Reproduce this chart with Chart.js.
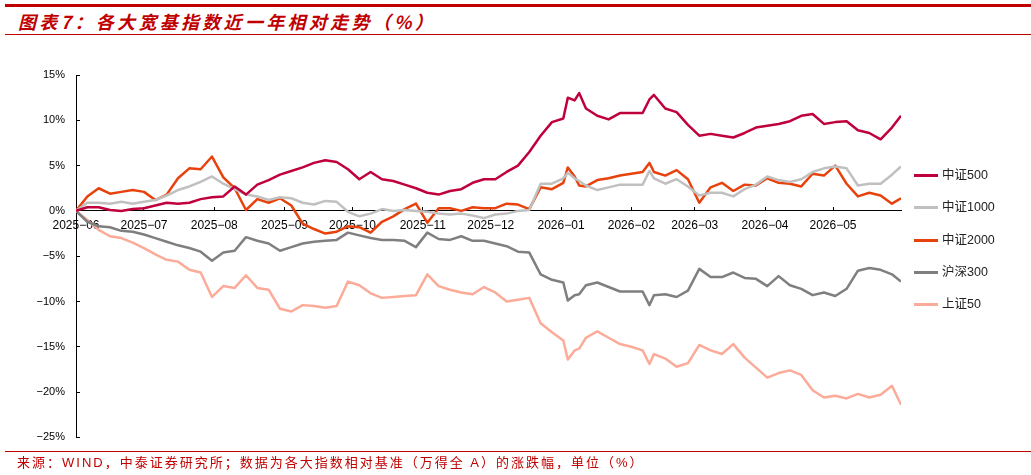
<!DOCTYPE html>
<html>
<head>
<meta charset="utf-8">
<script src="https://cdn.jsdelivr.net/npm/chart.js@4.4.1/dist/chart.umd.min.js"></script>
<style>
    body {
        margin: 0;
        width: 1031px;
        height: 475px;
        overflow: hidden;
        position: relative;
        background: #fff;
        font-family: "Liberation Sans", Arial, "Noto Sans CJK SC", sans-serif;
    }
    .top-line { position: absolute; left: 5px; right: 0; top: 4px; height: 3px; background: #c00000; }
    .title {
        position: absolute; left: 18px; top: 8px;
        font: italic bold 18px "Noto Sans CJK SC", sans-serif;
        letter-spacing: 3.3px; color: #c00000; white-space: nowrap;
    }
    .sub-line { position: absolute; left: 5px; right: 0; top: 34px; height: 1px; background: #c00000; }
    #chartBox { position: absolute; left: 0; top: 40px; width: 1031px; height: 419px; }
    .foot-line { position: absolute; left: 5px; right: 0; top: 451px; height: 1px; background: #c00000; }
    .foot {
        position: absolute; left: 17px; top: 452px;
        font-size: 13px; letter-spacing: 2px; color: #c00000; white-space: nowrap;
        font-family: "Liberation Sans", "Noto Sans CJK SC", sans-serif;
    }
    #legend { position: absolute; left: 914px; top: 166px; }
    .item { height: 32.3px; display: flex; align-items: flex-start; font-size: 12.5px; color: #222; }
    .item span.line { display: inline-block; width: 24px; height: 3px; margin: 8px 4px 0 0; }
    .item span.txt { line-height: 18px; font-family: "Liberation Sans", "Noto Sans CJK SC", sans-serif; }
</style>
</head>
<body>
<div class="top-line"></div>
<div class="title">图表7：各大宽基指数近一年相对走势（%）</div>
<div class="sub-line"></div>
<div id="chartBox"><canvas id="trendChart"></canvas></div>
<div id="legend"></div>
<div class="foot-line"></div>
<div class="foot">来源：WIND，中泰证券研究所；数据为各大指数相对基准（万得全 A）的涨跌幅，单位（%）</div>

<script>
const dates = ['2025-06-01','2025-06-06','2025-06-11','2025-06-16','2025-06-21','2025-06-26','2025-07-01','2025-07-06','2025-07-11','2025-07-16',
    '2025-07-21','2025-07-26','2025-07-31','2025-08-05','2025-08-10','2025-08-15','2025-08-20','2025-08-25','2025-08-30','2025-09-04',
    '2025-09-09','2025-09-14','2025-09-19','2025-09-24','2025-09-29','2025-10-04','2025-10-09','2025-10-14','2025-10-19','2025-10-24',
    '2025-10-29','2025-11-03','2025-11-08','2025-11-13','2025-11-18','2025-11-23','2025-11-28','2025-12-03','2025-12-08','2025-12-13',
    '2025-12-18','2025-12-23','2025-12-28','2026-01-02','2026-01-04','2026-01-07','2026-01-09','2026-01-12','2026-01-17','2026-01-22',
    '2026-01-27','2026-02-01','2026-02-06','2026-02-09','2026-02-11','2026-02-16','2026-02-21','2026-02-26','2026-03-03','2026-03-08',
    '2026-03-13','2026-03-18','2026-03-23','2026-03-28','2026-04-02','2026-04-07','2026-04-12','2026-04-17','2026-04-22','2026-04-27',
    '2026-05-02','2026-05-07','2026-05-12','2026-05-17','2026-05-22','2026-05-27','2026-05-31'];

const tickLabels = ['2025-06','2025-07','2025-08','2025-09','2025-10','2025-11','2025-12','2026-01','2026-02','2026-03','2026-04','2026-05'];

// relative return vs 万得全A, %
const csi500 = [0,0.4,0.4,0.1,0.0,0.2,0.3,0.6,0.9,0.8,0.9,1.3,1.5,1.6,2.7,1.8,2.9,3.4,4.0,4.4,
    4.8,5.3,5.6,5.4,4.6,3.5,4.3,3.5,3.3,2.9,2.5,2.0,1.8,2.2,2.4,3.1,3.5,3.5,4.3,5.0,
    6.5,8.3,9.8,10.2,12.5,12.2,13.0,11.3,10.5,10.1,10.8,10.8,10.8,12.3,12.8,11.3,10.9,9.5,8.3,8.5,
    8.3,8.1,8.6,9.2,9.4,9.6,9.9,10.5,10.7,9.6,9.8,9.9,8.9,8.6,7.9,9.2,10.5];
const csi1000 = [0,0.9,0.9,0.8,1.0,0.8,1.0,1.2,1.7,2.3,2.7,3.2,3.8,3.0,2.4,1.8,1.6,1.2,1.5,1.4,
    0.9,0.7,1.1,1.0,-0.1,-0.6,-0.3,0.2,0.0,0.1,0.0,-0.1,-0.3,-0.4,-0.3,-0.5,-0.8,-0.4,-0.3,0.0,
    0.1,3.0,3.0,3.6,4.2,3.6,3.3,2.8,2.3,2.6,2.9,2.9,2.9,4.4,3.6,3.0,3.5,2.7,1.7,2.0,
    2.0,1.6,2.4,2.9,3.8,3.4,3.2,3.5,4.3,4.7,4.9,4.7,2.8,3.0,3.0,4.0,4.9];
const csi2000 = [0,1.6,2.5,1.9,2.1,2.3,2.1,1.2,1.8,3.6,4.7,4.6,6.0,3.7,2.5,0.1,1.3,0.9,1.4,0.6,
    -1.4,-2.0,-2.5,-2.3,-1.7,-1.8,-2.4,-1.2,-0.6,0.2,0.8,-1.3,0.3,0.3,0.0,0.4,0.3,0.3,0.8,0.7,
    0.2,2.6,2.4,3.1,4.8,3.8,2.8,2.7,3.4,3.6,3.9,4.1,4.3,5.3,4.3,3.9,4.5,3.5,0.9,2.6,
    3.1,2.2,2.9,2.8,3.6,3.1,3.0,2.7,4.1,3.9,5.0,3.0,1.6,2.0,1.7,0.8,1.4];
const hs300 = [0,-1.2,-1.7,-1.8,-2.2,-2.3,-2.6,-3.0,-3.4,-3.8,-4.1,-4.5,-5.5,-4.6,-4.4,-2.9,-3.3,-3.6,-4.4,-4.0,
    -3.6,-3.4,-3.3,-3.2,-2.4,-2.7,-3.0,-3.2,-3.2,-3.3,-4.0,-2.4,-3.1,-3.2,-2.8,-3.3,-3.3,-3.6,-3.9,-4.5,
    -4.6,-7.0,-7.6,-7.9,-9.9,-9.3,-9.2,-8.2,-7.9,-8.4,-8.9,-8.9,-8.9,-10.4,-9.3,-9.2,-9.5,-8.8,-6.4,-7.3,
    -7.3,-6.8,-7.4,-7.5,-8.3,-7.2,-8.2,-8.6,-9.3,-9.0,-9.4,-8.6,-6.6,-6.3,-6.5,-7.0,-7.8];
const sz50 = [0,-1.0,-2.1,-2.8,-3.0,-3.5,-4.1,-4.8,-5.4,-5.6,-6.5,-6.8,-9.5,-8.3,-8.5,-7.1,-8.5,-8.7,-10.8,-11.1,
    -10.4,-10.5,-10.7,-10.5,-7.8,-8.2,-9.1,-9.6,-9.5,-9.4,-9.3,-7.0,-8.3,-8.7,-9.0,-9.2,-8.4,-9.0,-10.0,-9.8,
    -9.6,-12.4,-13.4,-14.3,-16.4,-15.4,-15.2,-14.0,-13.3,-14.0,-14.7,-15.0,-15.4,-16.9,-15.8,-16.3,-17.2,-16.8,-14.8,-15.4,
    -15.8,-14.7,-16.2,-17.3,-18.4,-17.9,-17.6,-18.1,-19.8,-20.6,-20.4,-20.7,-20.2,-20.6,-20.3,-19.3,-21.4];

const startDay = Date.UTC(2025, 5, 1);

function dayOf(str) {
    const p = str.split('-').map(Number);
    return Math.round((Date.UTC(p[0], p[1] - 1, p[2] || 1) - startDay) / 86400000);
}

function toPoints(values) {
    return values.map(function (v, i) {
        return { x: dayOf(dates[i]), y: v };
    });
}

function makeLine(label, values, color) {
    return {
        label: label,
        data: toPoints(values),
        borderColor: color,
        backgroundColor: color,
        borderWidth: 2.5,
        pointRadius: 0,
        tension: 0,
        borderJoinStyle: 'round',
    };
}

const monthTicks = tickLabels.map(dayOf);

const chart = new Chart(document.getElementById('trendChart'), {
    type: 'line',
    data: {
        datasets: [
            makeLine('中证500', csi500, '#c0003c'),
            makeLine('中证1000', csi1000, '#c0c0c0'),
            makeLine('中证2000', csi2000, '#e8420c'),
            makeLine('沪深300', hs300, '#7f7f7f'),
            makeLine('上证50', sz50, '#fbab98'),
        ],
    },
    options: {
        responsive: true,
        maintainAspectRatio: false,
        animation: false,
        layout: { padding: { top: 35, right: 130, bottom: 5, left: 0 } },
        plugins: { legend: { display: false }, tooltip: { enabled: false } },
        scales: {
            x: {
                type: 'linear',
                min: 0,
                max: dayOf('2026-05-31'),
                position: { y: 0 },
                afterBuildTicks: function (scale) {
                    scale.ticks = monthTicks.map(function (v) { return { value: v }; });
                },
                border: { display: true, color: '#000', width: 1 },
                grid: { drawOnChartArea: false, drawTicks: true, tickLength: -4, color: '#000' },
                ticks: {
                    autoSkip: false,
                    maxRotation: 0,
                    padding: 12,
                    color: '#000',
                    font: { family: '"Liberation Sans", Arial', size: 12 },
                    callback: function (value) {
                        const i = monthTicks.indexOf(value);
                        return i < 0 ? '' : tickLabels[i].replace('-', '−');
                    },
                },
            },
            y: {
                min: -25,
                max: 15,
                afterFit: function (scale) { scale.width = 76; },
                border: { display: true, color: '#000', width: 1 },
                grid: { drawOnChartArea: false, drawTicks: true, tickLength: -4, color: '#000' },
                ticks: {
                    stepSize: 5,
                    padding: 15,
                    color: '#000',
                    font: { family: '"Liberation Sans", Arial', size: 11 },
                    callback: function (v) {
                        return (v < 0 ? '−' : '') + Math.abs(v) + '%';
                    },
                },
            },
        },
    },
});

const legendBox = document.getElementById('legend');
chart.data.datasets.forEach(function (ds) {
    const row = document.createElement('div');
    row.className = 'item';
    row.innerHTML = '<span class="line" style="background:' + ds.borderColor + '"></span><span class="txt">' + ds.label + '</span>';
    legendBox.appendChild(row);
});
</script>
</body>
</html>
